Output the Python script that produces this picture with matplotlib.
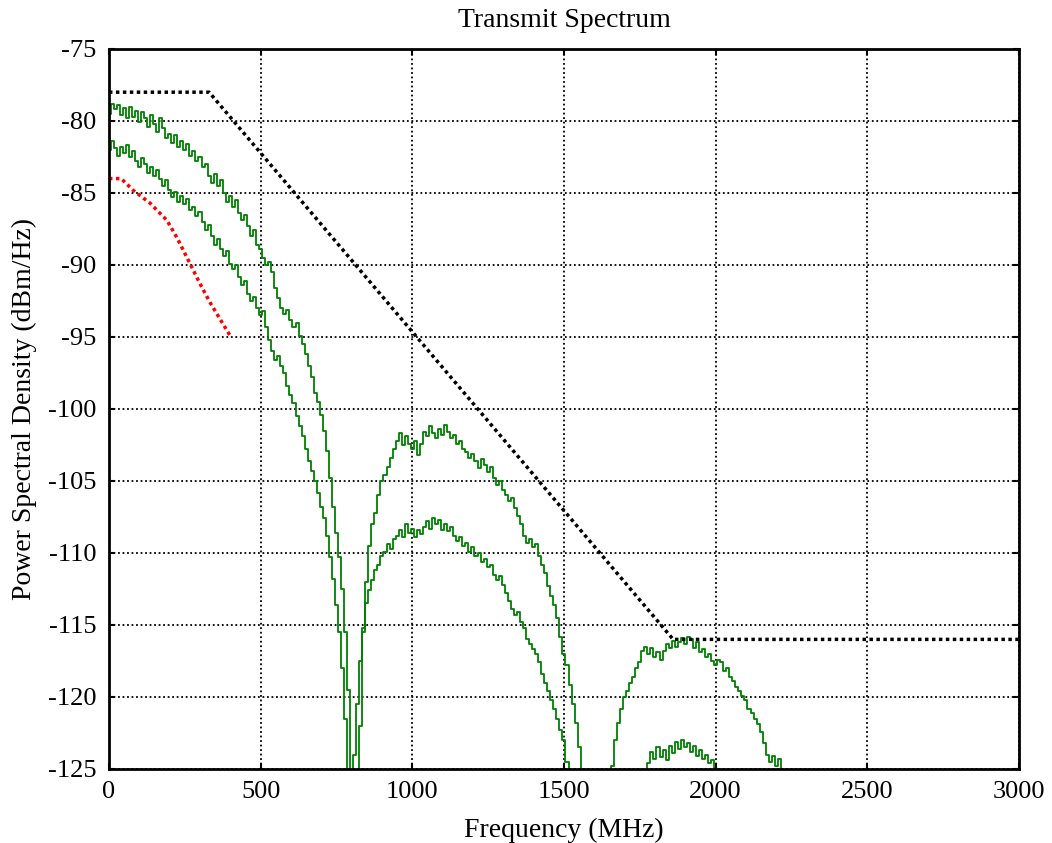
import numpy as np
import matplotlib
matplotlib.use("Agg")
import matplotlib.pyplot as plt

OFF = -130.0  # below the plot floor

# upper measured spectrum (dBm/Hz), one value every 10 MHz from 0 MHz
psd_hi = [
    -79.5, -78.8, -79.2, -78.9, -79.6, -79.1, -79.8, -79.0, -79.7, -79.3,
    -80.1, -79.4, -79.8, -80.4, -79.6, -80.2, -80.8, -79.8, -80.5, -81.2,
    -80.9, -81.5, -81.0, -81.8, -81.4, -82.0, -81.6, -82.4, -82.1, -82.8,
    -82.5, -83.2, -83.0, -83.8, -84.3, -83.7, -84.5, -84.1, -85.0, -85.6,
    -85.2, -86.0, -85.5, -86.4, -86.9, -86.5, -87.3, -88.0, -87.6, -88.6,
    -88.9, -89.5, -90.0, -89.8, -90.5, -91.6, -92.3, -93.0, -93.4, -93.1,
    -93.8, -94.3, -94.0, -94.9, -95.5, -96.2, -97.0, -97.8, -98.9, -99.5,
    -100.4, -101.5, -102.9, -104.8, -106.8, -108.6, -110.3, -112.5, -115.5, -119.5,
    OFF, OFF, OFF, -122.0, -115.5, -112.0, -109.5, -108.0, -107.2, -106.0,
    -105.0, -104.6, -104.0, -103.4, -102.8, -102.2, -101.7, -102.5, -101.9, -102.4,
    -102.8, -102.2, -103.2, -102.4, -101.6, -101.9, -101.2, -101.7, -102.0, -101.4,
    -101.8, -101.1, -101.6, -102.0, -101.8, -102.4, -102.2, -102.8, -103.0, -103.4,
    -103.1, -103.6, -104.1, -103.5, -103.9, -104.4, -104.0, -104.8, -105.3, -105.0,
    -105.6, -106.0, -106.4, -106.2, -106.9, -107.4, -108.0, -108.8, -109.3, -109.0,
    -109.6, -109.4, -110.2, -110.8, -111.4, -112.3, -113.0, -113.6, -114.5, -115.8,
    -117.0, -117.8, -119.2, -120.5, -121.8, -123.5, OFF, OFF, OFF, OFF,
    OFF, OFF, OFF, OFF, OFF, OFF, -124.8, -123.0, -121.8, -120.8,
    -120.0, -119.6, -119.0, -118.6, -118.0, -117.6, -116.8, -116.5, -117.0, -116.6,
    -117.2, -116.9, -117.4, -116.8, -116.3, -116.6, -116.1, -116.5, -116.2, -115.9,
    -116.3, -115.8, -116.0, -116.6, -116.2, -116.9, -116.7, -117.2, -117.0, -117.5,
    -117.8, -117.4, -117.6, -118.2, -118.0, -118.6, -118.9, -119.3, -119.6, -119.9,
    -120.2, -120.8, -121.1, -121.5, -121.9, -122.4, -123.2, -124.0, -124.5, -124.1,
    -124.8, -124.3, -125.5, OFF, OFF,
]

# lower measured spectrum (dBm/Hz), same grid
psd_lo = [
    -82.0, -81.4, -81.9, -82.4, -81.8, -82.2, -81.7, -82.5, -82.1, -82.8,
    -83.2, -82.6, -83.0, -83.6, -83.2, -83.8, -83.4, -84.0, -84.5, -84.1,
    -84.8, -85.3, -84.9, -85.6, -85.2, -85.8, -85.4, -86.2, -86.0, -86.6,
    -86.3, -87.0, -87.6, -87.2, -88.0, -88.6, -88.2, -88.9, -89.4, -89.0,
    -89.9, -90.3, -90.0, -90.8, -91.4, -91.1, -92.0, -92.5, -92.2, -93.0,
    -93.5, -93.2, -94.3, -95.2, -96.0, -96.6, -96.3, -97.0, -97.5, -98.4,
    -99.0, -99.6, -100.5, -101.2, -101.9, -102.8, -103.6, -104.3, -105.0, -105.8,
    -106.8, -107.6, -108.8, -110.3, -111.8, -113.6, -115.5, -118.0, -121.5, OFF,
    OFF, -124.0, -120.5, -117.5, -115.2, -113.5, -112.6, -111.9, -111.2, -110.8,
    -110.2, -109.9, -109.4, -109.7, -109.0, -108.8, -108.4, -108.9, -108.0, -108.6,
    -108.3, -108.9, -108.4, -108.7, -108.2, -107.8, -108.3, -107.6, -108.0, -107.7,
    -108.4, -108.0, -108.5, -108.2, -108.8, -109.2, -108.9, -109.5, -109.3, -109.9,
    -109.6, -110.2, -110.0, -110.6, -110.4, -111.0, -110.8, -111.5, -111.9, -111.6,
    -112.2, -112.8, -113.3, -113.9, -114.3, -114.1, -114.8, -115.2, -116.0, -116.3,
    -116.7, -117.0, -117.6, -118.4, -119.0, -119.6, -120.2, -120.8, -121.5, -122.3,
    -123.0, -124.5, OFF, OFF, OFF, OFF, OFF, OFF, OFF, OFF,
    OFF, OFF, OFF, OFF, OFF, OFF, OFF, OFF, OFF, OFF,
    OFF, OFF, OFF, OFF, OFF, OFF, OFF, OFF, -124.6, -123.8,
    -124.3, -123.5, -124.2, -123.7, -124.4, -123.4, -123.9, -123.1, -123.6, -123.0,
    -123.5, -123.2, -123.8, -123.4, -124.1, -123.7, -124.3, -124.0, -124.6, -124.4,
    -125.3, OFF, OFF, OFF, OFF, OFF, OFF, OFF, OFF, OFF,
    OFF, OFF, OFF, OFF, OFF, OFF, OFF, OFF, OFF, OFF,
    OFF, OFF, OFF, OFF, OFF,
]

freq_step = 10  # MHz
freq = np.arange(len(psd_hi)) * freq_step

# transmit mask (black dotted)
mask_f = [0, 330, 1860, 3000]
mask_db = [-78.0, -78.0, -116.0, -116.0]

# reference curve (red dotted)
ref_f = [0, 40, 79, 135, 191, 224, 267, 300, 333, 376, 399]
ref_db = [-84.0, -84.0, -84.8, -85.7, -86.9, -88.1, -89.9, -91.3, -92.6, -94.1, -94.9]

plt.rcParams['font.family'] = ['Liberation Serif', 'DejaVu Serif']
plt.rcParams['axes.unicode_minus'] = False

fig = plt.figure(figsize=(10.52, 8.43), dpi=100)
ax = fig.add_axes([0.1036, 0.0878, 0.8650, 0.8541])

# spectra start from the bottom at f = 0
f_plot = np.concatenate([[0], freq])
ax.plot(f_plot, np.concatenate([[OFF], psd_hi]), color='green', lw=1.3,
        drawstyle='steps-mid')
ax.plot(f_plot, np.concatenate([[OFF], psd_lo]), color='green', lw=1.3,
        drawstyle='steps-mid')
ax.plot(mask_f, mask_db, color='black', lw=2.5, linestyle=(0, (1, 1)))
ax.plot(ref_f, ref_db, color='red', lw=2.5, linestyle=(0, (1, 1)))

ax.set_xlim(0, 3000)
ax.set_ylim(-125, -75)
ax.set_xticks([0, 500, 1000, 1500, 2000, 2500, 3000])
ax.set_yticks(np.arange(-125, -74, 5))
ax.grid(True, color='black', lw=1.3, linestyle=(0, (1, 1.5)))
ax.tick_params(direction='in', top=True, right=True, labelsize=19, length=4,
               width=1.5, pad=9)
for s in ax.spines.values():
    s.set_linewidth(2)

ax.set_title('Transmit Spectrum', fontsize=20, pad=16)
ax.set_xlabel('Frequency (MHz)', fontsize=20, labelpad=10)
ax.set_ylabel('Power Spectral Density (dBm/Hz)', fontsize=20, labelpad=8)

fig.savefig('out.png', dpi=100)
